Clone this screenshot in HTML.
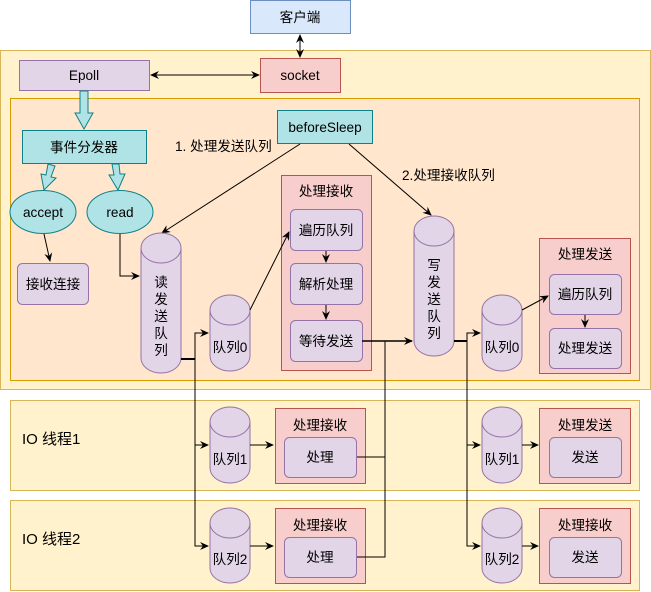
<!DOCTYPE html>
<html><head><meta charset="utf-8"><style>
html,body{margin:0;padding:0;background:#fff;}
svg{display:block;}
text{font-family:"Liberation Sans","Noto Sans CJK SC",sans-serif;font-size:13.6px;fill:#000;}
</style></head><body>
<svg width="651" height="592" viewBox="0 0 651 592" xmlns="http://www.w3.org/2000/svg">
<defs>
<marker id="a" markerWidth="10" markerHeight="10" refX="8" refY="5" orient="auto" markerUnits="userSpaceOnUse">
<path d="M0,1 L9,5 L0,9 L3,5 Z" fill="#000"/></marker>
<marker id="s" markerWidth="10" markerHeight="10" refX="1" refY="5" orient="auto" markerUnits="userSpaceOnUse">
<path d="M9,1 L0,5 L9,9 L6,5 Z" fill="#000"/></marker>
</defs>
<rect x="250.5" y="0.5" width="100" height="33" fill="#dae8fc" stroke="#6c8ebf"/>
<text x="300" y="22" text-anchor="middle">客户端</text>
<rect x="0.5" y="50.5" width="650" height="339" fill="#fff2cc" stroke="#d6b656"/>
<line x1="300" y1="35" x2="300" y2="57" stroke="#000" marker-start="url(#s)" marker-end="url(#a)"/>
<rect x="19.5" y="60.5" width="130" height="30" fill="#e1d5e7" stroke="#9673a6"/>
<text x="84" y="80" text-anchor="middle">Epoll</text>
<rect x="260.5" y="58.5" width="80" height="34" fill="#f8cecc" stroke="#b85450"/>
<text x="300" y="80" text-anchor="middle">socket</text>
<line x1="151" y1="75" x2="259" y2="75" stroke="#000" marker-start="url(#s)" marker-end="url(#a)"/>
<rect x="10.5" y="98.5" width="629" height="282" fill="#ffe6cc" stroke="#d79b00"/>
<path d="M80,91 L88,91 L88,113 L93,113 L84,129 L75,113 L80,113 Z" fill="#b0e3e6" stroke="#0e8088"/>
<rect x="22.5" y="130.5" width="124" height="33" fill="#b0e3e6" stroke="#0e8088"/>
<text x="84" y="152" text-anchor="middle">事件分发器</text>
<rect x="277.5" y="110.5" width="95" height="33" fill="#b0e3e6" stroke="#0e8088"/>
<text x="325" y="132" text-anchor="middle">beforeSleep</text>
<text x="175" y="151">1. 处理发送队列</text>
<text x="402" y="180">2.处理接收队列</text>
<path d="M48,164 L55,166 L51,177 L56,178 L44,190 L41,174 L46,175 Z" fill="#b0e3e6" stroke="#0e8088"/>
<path d="M112,164 L119,164 L120,174 L125,174 L118,190 L109,175 L114,175 Z" fill="#b0e3e6" stroke="#0e8088"/>
<ellipse cx="43" cy="212" rx="33" ry="21.5" fill="#b0e3e6" stroke="#0e8088"/>
<text x="43" y="217" text-anchor="middle">accept</text>
<ellipse cx="120" cy="212" rx="33" ry="21.5" fill="#b0e3e6" stroke="#0e8088"/>
<text x="120" y="217" text-anchor="middle">read</text>
<line x1="44" y1="234" x2="50" y2="261" stroke="#000" marker-end="url(#a)"/>
<rect x="17.5" y="263.5" width="71" height="41" rx="5" fill="#e1d5e7" stroke="#9673a6"/>
<text x="53" y="289" text-anchor="middle">接收连接</text>
<polyline points="120,234 120,276 139,276" fill="none" stroke="#000" marker-end="url(#a)"/>
<line x1="300" y1="144" x2="162" y2="233" stroke="#000" marker-end="url(#a)"/>
<line x1="349" y1="144" x2="431" y2="215" stroke="#000" marker-end="url(#a)"/>
<path d="M141,248 A20,15 0 0 1 181,248 L181,358 A20,15 0 0 1 141,358 Z" fill="#e1d5e7" stroke="#9673a6"/>
<path d="M141,248 A20,15 0 0 0 181,248" fill="none" stroke="#9673a6"/>
<text x="161" y="287" text-anchor="middle">读</text>
<text x="161" y="304" text-anchor="middle">发</text>
<text x="161" y="321" text-anchor="middle">送</text>
<text x="161" y="338" text-anchor="middle">队</text>
<text x="161" y="355" text-anchor="middle">列</text>
<path d="M414,231 A20,15 0 0 1 454,231 L454,341 A20,15 0 0 1 414,341 Z" fill="#e1d5e7" stroke="#9673a6"/>
<path d="M414,231 A20,15 0 0 0 454,231" fill="none" stroke="#9673a6"/>
<text x="434" y="270" text-anchor="middle">写</text>
<text x="434" y="287" text-anchor="middle">发</text>
<text x="434" y="304" text-anchor="middle">送</text>
<text x="434" y="321" text-anchor="middle">队</text>
<text x="434" y="338" text-anchor="middle">列</text>
<rect x="281.5" y="175.5" width="90" height="195" fill="#f8cecc" stroke="#b85450"/>
<text x="326" y="196" text-anchor="middle">处理接收</text>
<rect x="290.5" y="209.5" width="72" height="41" rx="5" fill="#e1d5e7" stroke="#9673a6"/>
<text x="326" y="235" text-anchor="middle">遍历队列</text>
<rect x="290.5" y="263.5" width="72" height="41" rx="5" fill="#e1d5e7" stroke="#9673a6"/>
<text x="326" y="289" text-anchor="middle">解析处理</text>
<rect x="290.5" y="320.5" width="72" height="41" rx="5" fill="#e1d5e7" stroke="#9673a6"/>
<text x="326" y="346" text-anchor="middle">等待发送</text>
<line x1="326" y1="251" x2="326" y2="262" stroke="#000" marker-end="url(#a)"/>
<line x1="326" y1="305" x2="326" y2="319" stroke="#000" marker-end="url(#a)"/>
<rect x="539.5" y="238.5" width="91" height="135" fill="#f8cecc" stroke="#b85450"/>
<text x="585" y="259" text-anchor="middle">处理发送</text>
<rect x="549.5" y="274.5" width="72" height="40" rx="5" fill="#e1d5e7" stroke="#9673a6"/>
<text x="585" y="299" text-anchor="middle">遍历队列</text>
<rect x="549.5" y="328.5" width="72" height="40" rx="5" fill="#e1d5e7" stroke="#9673a6"/>
<text x="585" y="353" text-anchor="middle">处理发送</text>
<line x1="585" y1="315" x2="585" y2="327" stroke="#000" marker-end="url(#a)"/>
<rect x="10.5" y="400.5" width="629" height="90" fill="#fff2cc" stroke="#d6b656"/>
<rect x="10.5" y="500.5" width="629" height="90" fill="#fff2cc" stroke="#d6b656"/>
<text x="22" y="444" style="font-size:15px">IO 线程1</text>
<text x="22" y="544" style="font-size:15px">IO 线程2</text>
<g fill="#e1d5e7" stroke="#9673a6">
<path d="M210,310 A20,15 0 0 1 250,310 L250,356 A20,15 0 0 1 210,356 Z"/>
<path d="M210,422 A20,15 0 0 1 250,422 L250,468 A20,15 0 0 1 210,468 Z"/>
<path d="M210,523 A20,15 0 0 1 250,523 L250,568 A20,15 0 0 1 210,568 Z"/>
<path d="M482,310 A20,15 0 0 1 522,310 L522,356 A20,15 0 0 1 482,356 Z"/>
<path d="M482,422 A20,15 0 0 1 522,422 L522,468 A20,15 0 0 1 482,468 Z"/>
<path d="M482,523 A20,15 0 0 1 522,523 L522,568 A20,15 0 0 1 482,568 Z"/>
</g>
<g fill="none" stroke="#9673a6">
<path d="M210,310 A20,15 0 0 0 250,310"/><path d="M210,422 A20,15 0 0 0 250,422"/><path d="M210,523 A20,15 0 0 0 250,523"/>
<path d="M482,310 A20,15 0 0 0 522,310"/><path d="M482,422 A20,15 0 0 0 522,422"/><path d="M482,523 A20,15 0 0 0 522,523"/>
</g>
<text x="230" y="352" text-anchor="middle">队列0</text>
<text x="230" y="464" text-anchor="middle">队列1</text>
<text x="230" y="564" text-anchor="middle">队列2</text>
<text x="502" y="352" text-anchor="middle">队列0</text>
<text x="502" y="464" text-anchor="middle">队列1</text>
<text x="502" y="564" text-anchor="middle">队列2</text>
<rect x="275.5" y="408.5" width="90" height="75" fill="#f8cecc" stroke="#b85450"/>
<text x="320" y="430" text-anchor="middle">处理接收</text>
<rect x="284.5" y="437.5" width="72" height="40" rx="5" fill="#e1d5e7" stroke="#9673a6"/>
<text x="320" y="462" text-anchor="middle">处理</text>
<rect x="275.5" y="508.5" width="90" height="75" fill="#f8cecc" stroke="#b85450"/>
<text x="320" y="530" text-anchor="middle">处理接收</text>
<rect x="284.5" y="537.5" width="72" height="40" rx="5" fill="#e1d5e7" stroke="#9673a6"/>
<text x="320" y="562" text-anchor="middle">处理</text>
<rect x="539.5" y="408.5" width="91" height="75" fill="#f8cecc" stroke="#b85450"/>
<text x="585" y="430" text-anchor="middle">处理发送</text>
<rect x="549.5" y="437.5" width="72" height="40" rx="5" fill="#e1d5e7" stroke="#9673a6"/>
<text x="585" y="462" text-anchor="middle">发送</text>
<rect x="539.5" y="508.5" width="91" height="75" fill="#f8cecc" stroke="#b85450"/>
<text x="585" y="530" text-anchor="middle">处理接收</text>
<rect x="549.5" y="537.5" width="72" height="40" rx="5" fill="#e1d5e7" stroke="#9673a6"/>
<text x="585" y="562" text-anchor="middle">发送</text>
<g fill="none" stroke="#000">
<polyline points="181,359 195,359" stroke-width="2"/>
<polyline points="195,359 195,333 208,333" marker-end="url(#a)"/>
<polyline points="195,359 195,445 208,445" marker-end="url(#a)"/>
<polyline points="195,445 195,546 208,546" marker-end="url(#a)"/>
<line x1="250" y1="310" x2="289" y2="232" marker-end="url(#a)"/>
<line x1="250" y1="445" x2="273" y2="445" marker-end="url(#a)"/>
<line x1="250" y1="546" x2="273" y2="546" marker-end="url(#a)"/>
<polyline points="357,457 385,457 385,341"/>
<polyline points="357,557 385,557 385,457"/>
<polyline points="362,341 412,341" stroke-width="1.5" marker-end="url(#a)"/>
<polyline points="454,341 467,341" stroke-width="2"/>
<polyline points="467,341 467,333 480,333" marker-end="url(#a)"/>
<polyline points="467,341 467,445 480,445" marker-end="url(#a)"/>
<polyline points="467,445 467,546 480,546" marker-end="url(#a)"/>
<line x1="522" y1="310" x2="548" y2="296" marker-end="url(#a)"/>
<line x1="522" y1="445" x2="538" y2="445" marker-end="url(#a)"/>
<line x1="522" y1="546" x2="538" y2="546" marker-end="url(#a)"/>
</g>
</svg>
</body></html>
